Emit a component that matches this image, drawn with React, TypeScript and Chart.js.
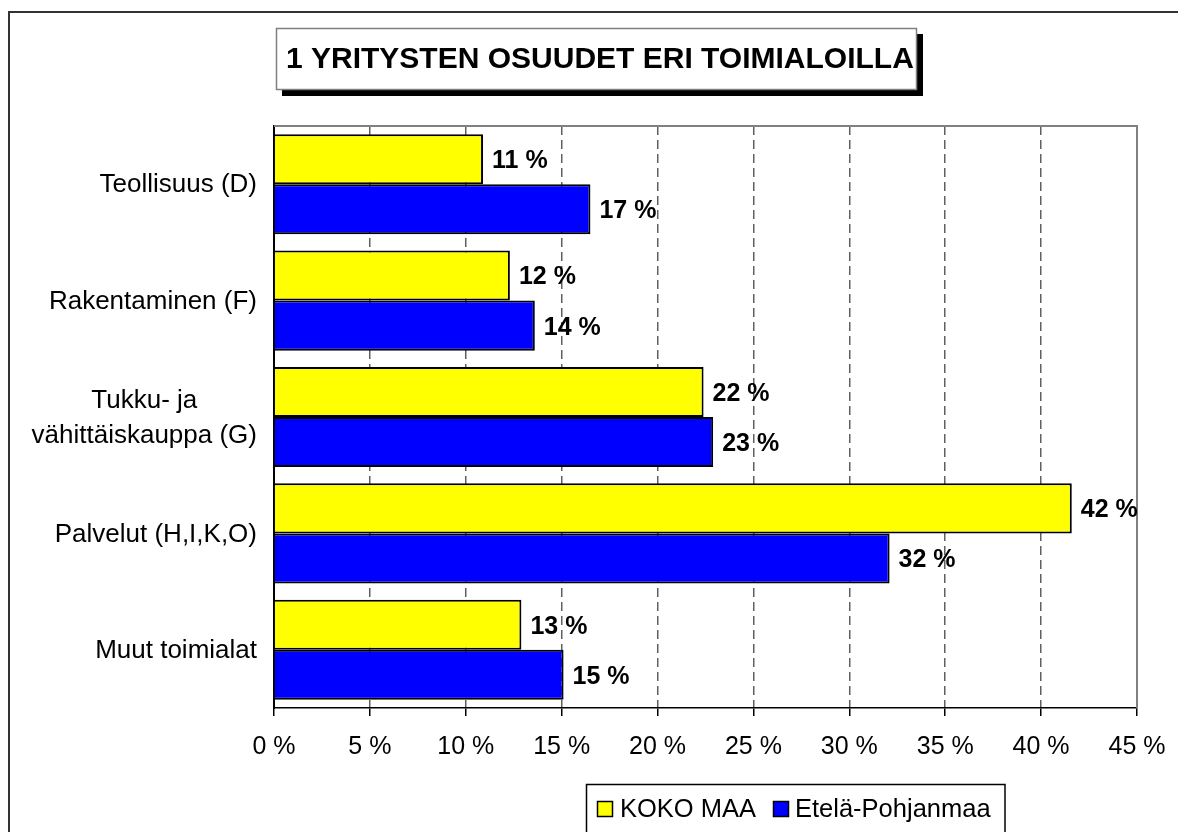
import React, { useEffect, useRef } from "react";
import { Chart, registerables } from "chart.js";

Chart.register(...registerables);

const TITLE = "1 YRITYSTEN OSUUDET ERI TOIMIALOILLA";
const categories: string[][] = [
  ["Teollisuus (D)"],
  ["Rakentaminen (F)"],
  ["Tukku- ja", "vähittäiskauppa (G)"],
  ["Palvelut (H,I,K,O)"],
  ["Muut toimialat"],
];
const seriesNames = ["KOKO MAA", "Etelä-Pohjanmaa"];
const kokoMaa = [10.9, 12.3, 22.4, 41.6, 12.9];
const etelaPohjanmaa = [16.5, 13.6, 22.9, 32.1, 15.1];
const seriesColors = ["#FFFF00", "#0000FF"];
const xTicks = [0, 5, 10, 15, 20, 25, 30, 35, 40, 45];

const FONT = "'Liberation Sans', Arial, Helvetica, sans-serif";

const decorPlugin = {
  id: "decor",
  beforeDraw(chart: any) {
    const ctx = chart.ctx;
    ctx.save();
    ctx.fillStyle = "#fff";
    ctx.fillRect(0, 0, chart.width, chart.height);
    ctx.restore();
  },
  beforeDatasetsDraw(chart: any) {
    const { ctx, chartArea } = chart;
    ctx.save();
    ctx.strokeStyle = "#808080";
    ctx.lineWidth = 2;
    ctx.beginPath();
    ctx.moveTo(chartArea.left, chartArea.top);
    ctx.lineTo(chartArea.right, chartArea.top);
    ctx.lineTo(chartArea.right, chartArea.bottom);
    ctx.stroke();
    ctx.restore();
  },
  afterDatasetsDraw(chart: any) {
    const ctx = chart.ctx;
    ctx.save();
    ctx.font = `bold 25px ${FONT}`;
    ctx.fillStyle = "#000";
    ctx.textAlign = "left";
    ctx.textBaseline = "middle";
    chart.data.datasets.forEach((ds: any, di: number) => {
      const meta = chart.getDatasetMeta(di);
      meta.data.forEach((el: any, i: number) => {
        ctx.fillText(Math.round(ds.data[i]) + " %", el.x + 9, el.y + 2);
      });
    });
    ctx.restore();
  },
  afterDraw(chart: any) {
    const ctx = chart.ctx;
    const yScale = chart.scales.y;
    ctx.save();
    // outer border
    ctx.strokeStyle = "#333";
    ctx.lineWidth = 2;
    ctx.strokeRect(9, 12, chart.width + 20, chart.height + 20);

    // category labels
    ctx.font = `26px ${FONT}`;
    ctx.fillStyle = "#000";
    ctx.textBaseline = "middle";
    const rightX = 257;
    categories.forEach((lines, i) => {
      const yc = yScale.getPixelForValue(i);
      if (lines.length === 1) {
        ctx.textAlign = "right";
        ctx.fillText(lines[0], rightX, yc + 1);
      } else {
        const maxW = Math.max(...lines.map((l) => ctx.measureText(l).width));
        const cx = rightX - maxW / 2;
        const lh = 35;
        ctx.textAlign = "center";
        lines.forEach((l, k) => {
          ctx.fillText(l, cx, yc + 1 + (k - (lines.length - 1) / 2) * lh);
        });
      }
    });

    // title box with shadow
    ctx.fillStyle = "#000";
    ctx.fillRect(282, 34, 641, 62);
    ctx.fillStyle = "#fff";
    ctx.fillRect(276, 28, 641, 62);
    ctx.strokeStyle = "#808080";
    ctx.lineWidth = 1.5;
    ctx.strokeRect(276.5, 28.5, 640, 61);
    ctx.font = `bold 30px ${FONT}`;
    ctx.fillStyle = "#000";
    ctx.textAlign = "left";
    ctx.textBaseline = "middle";
    ctx.fillText(TITLE, 286, 60);

    // legend box
    ctx.strokeStyle = "#000";
    ctx.lineWidth = 1.5;
    ctx.strokeRect(586.5, 784.5, 418.5, 80);
    ctx.font = `25.5px ${FONT}`;
    const items = [
      { x: 597, tx: 620 },
      { x: 773, tx: 795 },
    ];
    chart.data.datasets.forEach((ds: any, di: number) => {
      const it = items[di];
      ctx.fillStyle = ds.backgroundColor;
      ctx.fillRect(it.x, 801, 16, 16);
      ctx.strokeStyle = "#000";
      ctx.lineWidth = 1.5;
      ctx.strokeRect(it.x + 0.5, 801.5, 15, 15);
      ctx.fillStyle = "#000";
      ctx.textAlign = "left";
      ctx.textBaseline = "middle";
      ctx.fillText(ds.label, it.tx, 810);
    });
    ctx.restore();
  },
};

export default function App() {
  const ref = useRef<HTMLCanvasElement>(null);
  useEffect(() => {
    document.body.style.margin = "0";
    const canvas = ref.current!;
    const chart = new Chart(canvas, {
      type: "bar",
      data: {
        labels: categories.map((c) => c.join(" ")),
        datasets: [
          {
            label: seriesNames[0],
            data: kokoMaa,
            backgroundColor: seriesColors[0],
            borderColor: "#000",
            borderWidth: 2,
            categoryPercentage: 0.86,
            barPercentage: 1.0,
          },
          {
            label: seriesNames[1],
            data: etelaPohjanmaa,
            backgroundColor: seriesColors[1],
            borderColor: "#000",
            borderWidth: 2,
            categoryPercentage: 0.86,
            barPercentage: 1.0,
          },
        ],
      },
      options: {
        indexAxis: "y",
        responsive: false,
        animation: false,
        devicePixelRatio: 1,
        layout: { padding: { left: 274, top: 126, right: 41, bottom: 0 } },
        plugins: {
          legend: { display: false },
          title: { display: false },
          tooltip: { enabled: false },
        },
        scales: {
          x: {
            type: "linear",
            min: 0,
            max: 45,
            afterBuildTicks: (s: any) => {
              s.ticks = xTicks.map((v) => ({ value: v }));
            },
            afterFit: (s: any) => {
              s.height = 124;
              s.paddingLeft = 0;
              s.paddingRight = 0;
            },
            ticks: {
              color: "#000",
              font: { family: FONT, size: 25 },
              padding: 16,
              maxRotation: 0,
              autoSkip: false,
              callback: (v: any) => v + " %",
            },
            grid: {
              color: (c: any) =>
                c.tick && (c.tick.value === 0 || c.tick.value === 45) ? "rgba(0,0,0,0)" : "#606060",
              lineWidth: 1.5,
              tickBorderDash: [1, 0],
              tickColor: "#000",
              tickLength: 8,
              tickWidth: 1.5,
            },
            border: { color: "#000", width: 1.5, dash: [9, 5] },
          },
          y: {
            type: "category",
            afterFit: (s: any) => {
              s.width = 0;
            },
            ticks: { display: false },
            grid: { display: false, drawTicks: false },
            border: { color: "#000", width: 2 },
          },
        },
      },
      plugins: [decorPlugin],
    });
    return () => chart.destroy();
  }, []);
  return <canvas ref={ref} width={1178} height={832} style={{ display: "block" }} />;
}
